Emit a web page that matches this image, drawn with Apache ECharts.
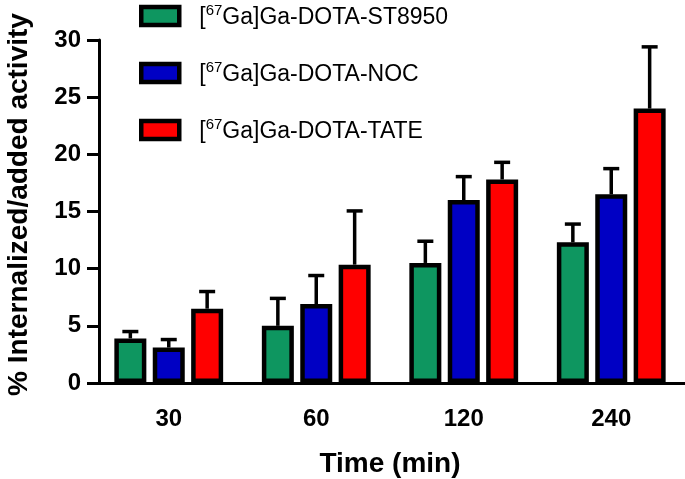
<!DOCTYPE html>
<html>
<head>
<meta charset="utf-8">
<script src="https://cdn.jsdelivr.net/npm/echarts@6/dist/echarts.min.js"></script>
<style>html,body{margin:0;padding:0;background:#fff;}#c{width:685px;height:479px;}</style>
</head>
<body>
<div id="c"></div>
<script>
var categories = ['30', '60', '120', '240'];
var seriesNames = ['[67Ga]Ga-DOTA-ST8950', '[67Ga]Ga-DOTA-NOC', '[67Ga]Ga-DOTA-TATE'];
var st8950 = [3.9, 5.0, 10.5, 12.3];
var st8950Err = [0.6, 2.4, 1.9, 1.6];
var noc = [3.1, 6.9, 16.0, 16.5];
var nocErr = [0.7, 2.5, 2.05, 2.25];
var tate = [6.5, 10.35, 17.8, 24.0];
var tateErr = [1.5, 4.7, 1.5, 5.4];
var yTicks = [0, 5, 10, 15, 20, 25, 30];

var colors = ['#0E9660', '#0000C4', '#FF0000'];
var vals = [st8950, noc, tate];
var errs = [st8950Err, nocErr, tateErr];
var BAR_W = 32, GAP = 0.2;
var FONT = 'Liberation Sans, Arial, sans-serif';

var chart = echarts.init(document.getElementById('c'));
var series = [];
vals.forEach(function (v, si) {
  series.push({
    name: seriesNames[si],
    type: 'bar',
    data: v,
    barWidth: BAR_W,
    barGap: (GAP * 100) + '%',
    itemStyle: { color: colors[si], borderColor: '#000', borderWidth: 4.5 },
    z: 3
  });
});
vals.forEach(function (v, si) {
  var offset = (si - 1) * BAR_W * (1 + GAP);
  series.push({
    type: 'custom',
    name: seriesNames[si],
    data: v.map(function (val, i) { return [i, val, val + errs[si][i]]; }),
    z: 2,
    silent: true,
    legendHoverLink: false,
    renderItem: function (params, api) {
      var i = api.value(0);
      var p0 = api.coord([i, api.value(1)]);
      var p1 = api.coord([i, api.value(2)]);
      var x = p0[0] + offset;
      var half = 8;
      return {
        type: 'group',
        children: [
          { type: 'line', shape: { x1: x, y1: p0[1], x2: x, y2: p1[1] }, style: { stroke: '#000', lineWidth: 3.5 } },
          { type: 'line', shape: { x1: x - half, y1: p1[1], x2: x + half, y2: p1[1] }, style: { stroke: '#000', lineWidth: 3.5 } }
        ]
      };
    }
  });
});

chart.setOption({
  animation: false,
  backgroundColor: '#fff',
  grid: { left: 95, right: 0, top: 40, bottom: 96, containLabel: false, outerBoundsMode: 'none' },
  legend: {
    data: seriesNames.map(function (n, i) { return { name: n, itemStyle: { color: colors[i], borderColor: '#000', borderWidth: 4.5 } }; }),
    orient: 'vertical',
    left: 139,
    top: 3,
    padding: 0,
    itemWidth: 38,
    itemHeight: 18,
    itemGap: 31,
    icon: 'rect',
    selectedMode: false,
    formatter: function (name) {
      return '{b|[}{s|67}{b|' + name.replace('[67', '') + '}';
    },
    textStyle: {
      fontFamily: FONT,
      fontSize: 23,
      color: '#000',
      padding: [0, 0, 0, 15],
      rich: {
        b: { fontFamily: FONT, fontSize: 23, color: '#000', verticalAlign: 'bottom', lineHeight: 26 },
        s: { fontFamily: FONT, fontSize: 15, color: '#000', verticalAlign: 'top', lineHeight: 26, padding: [0, 0, 10, 0] }
      }
    }
  },
  xAxis: {
    type: 'category',
    data: categories,
    name: 'Time (min)',
    nameLocation: 'middle',
    nameGap: 67,
    nameTextStyle: { fontFamily: FONT, fontSize: 28, fontWeight: 'bold', color: '#000' },
    axisLine: { lineStyle: { color: '#000', width: 3 } },
    axisTick: { alignWithLabel: true, length: 9, lineStyle: { color: '#000', width: 3 } },
    axisLabel: { margin: 24, fontFamily: FONT, fontSize: 24, fontWeight: 'bold', color: '#000' },
    splitLine: { show: false }
  },
  yAxis: {
    type: 'value',
    min: 0,
    max: 30,
    interval: 5,
    offset: -4,
    name: '% Internalized/added activity',
    nameLocation: 'middle',
    nameGap: 66,
    nameRotate: 90,
    nameTextStyle: { fontFamily: FONT, fontSize: 28, fontWeight: 'bold', color: '#000', padding: [0, 0, 0, 14] },
    axisLine: { show: true, lineStyle: { color: '#000', width: 3 } },
    axisTick: { show: true, length: 12, lineStyle: { color: '#000', width: 3 } },
    axisLabel: {
      margin: 18, fontFamily: FONT, fontSize: 24, fontWeight: 'bold', color: '#000',
      formatter: function (v) { return yTicks.indexOf(v) >= 0 ? String(v) : ''; }
    },
    splitLine: { show: false }
  },
  series: series
});
</script>
</body>
</html>
